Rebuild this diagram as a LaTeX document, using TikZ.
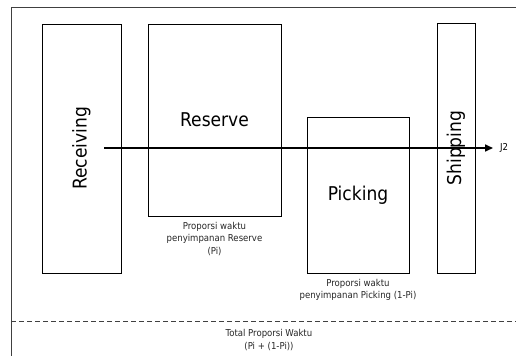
\documentclass[tikz,border=0pt]{standalone}
\usepackage{fontspec}
\setmainfont{DejaVu Sans Condensed}
\usetikzlibrary{positioning,arrows.meta}

\begin{document}
\begin{tikzpicture}[x=1pt,y=-1pt,
    area/.style={draw, line width=0.8pt, inner sep=0pt},
    big/.style={font=\fontsize{19}{22}\selectfont},
    small/.style={font=\fontsize{9.5}{12.5}\selectfont, align=center, text=black!85}]
        \useasboundingbox (0,0) rectangle (516,356);
        % frame
        \draw[black!75, line width=0.8pt] (516,7) -- (11,7) -- (11,356);

        \node[area, big, rotate=90, minimum width=249pt, minimum height=79pt] (recv) at (81.5,148.5) {Receiving};
        \node[area, big, minimum width=133pt, minimum height=192pt] (resv) at (214.5,120) {Reserve};
        \node[area, big, minimum width=102pt, minimum height=156pt] (pick) at (358,195) {Picking};
        \node[area, big, rotate=90, minimum width=250pt, minimum height=38pt] (ship) at (456,148) {Shipping};

        \coordinate (start) at (104,148);
        \coordinate (end) at (493,148);
        \draw[line width=1.6pt, -{Triangle[length=8pt,width=7pt]}] (start) -- (end);
        \node[font=\fontsize{9.5}{11}\selectfont, anchor=west, inner sep=0pt] (j2) at ([xshift=7pt]end) {J2};

        \node[small, below=2pt of resv] (capresv) {Proporsi waktu\\penyimpanan Reserve\\(Pi)};
        \node[small, below=2pt of pick] (cappick) {Proporsi waktu\\penyimpanan Picking (1-Pi)};

        \draw[black!75, line width=0.8pt, dash pattern=on 5pt off 3pt] (11,321) -- (516,321);
        \node[small] (total) at (269,340) {Total Proporsi Waktu\\(Pi + (1-Pi))};
    \end{tikzpicture}
\end{document}
